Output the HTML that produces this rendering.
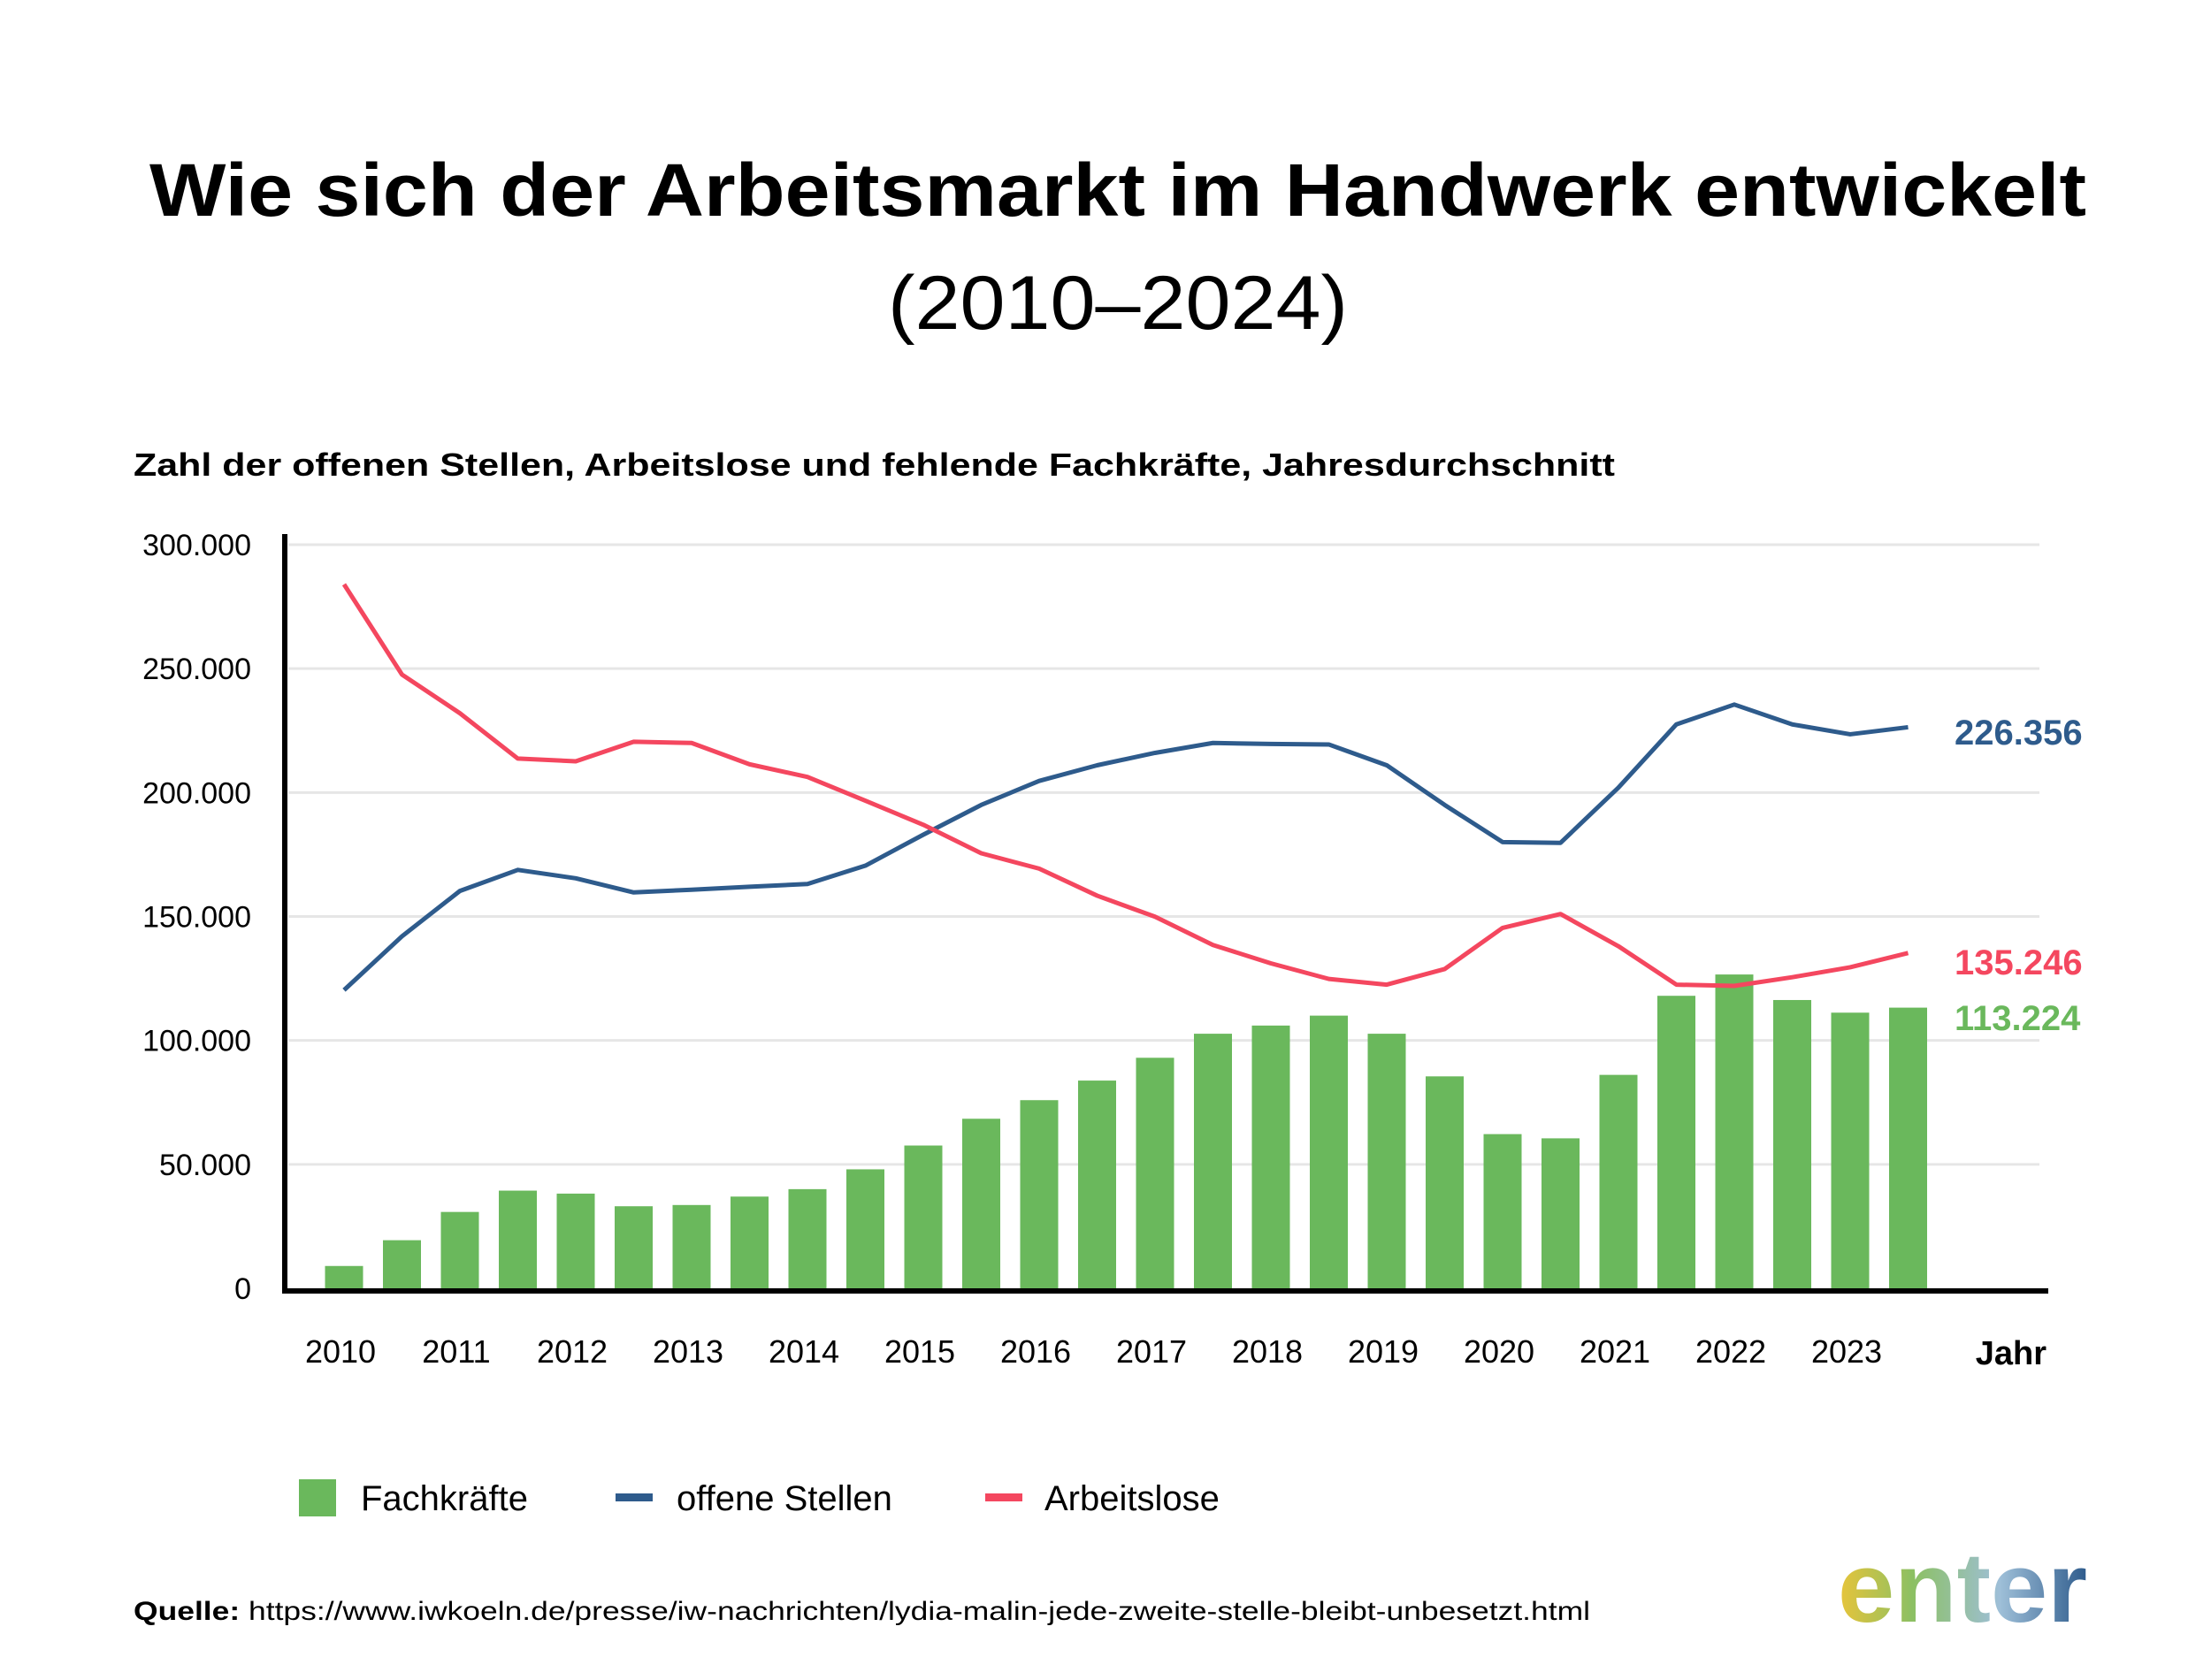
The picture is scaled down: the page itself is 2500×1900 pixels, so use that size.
<!DOCTYPE html>
<html><head><meta charset="utf-8"><style>
html,body{margin:0;padding:0;background:#fff}
svg{display:block}
text{font-family:"Liberation Sans",sans-serif}
</style></head><body>
<svg id="chart" width="2500" height="1900" viewBox="0 0 2500 1900">
<text x="1264" y="244" text-anchor="middle" font-size="84" font-weight="bold" fill="#000" textLength="2190" lengthAdjust="spacingAndGlyphs">Wie sich der Arbeitsmarkt im Handwerk entwickelt</text>
<text x="1264" y="372" text-anchor="middle" font-size="86" fill="#000" textLength="520" lengthAdjust="spacingAndGlyphs">(2010–2024)</text>
<text x="151" y="538" font-size="36" font-weight="bold" fill="#000" textLength="1675" lengthAdjust="spacingAndGlyphs">Zahl der offenen Stellen, Arbeitslose und fehlende Fachkräfte, Jahresdurchschnitt</text>
<g id="grid"></g><g id="bars"></g><g id="lines"></g><g id="axes"></g>
<text x="2210" y="842" font-size="40" font-weight="bold" fill="#2e5b8c">226.356</text>
<text x="2210" y="1102" font-size="40" font-weight="bold" fill="#f4475f">135.246</text>
<text x="2210" y="1165" font-size="40" font-weight="bold" fill="#6ab85c">113.224</text>
<text x="2314" y="1543" text-anchor="end" font-size="38" font-weight="bold" fill="#000">Jahr</text>
<g>
<rect x="338" y="1673" width="42" height="42" fill="#6ab85c"/>
<text x="408" y="1708" font-size="40" fill="#000">Fachkräfte</text>
<rect x="696" y="1689" width="42" height="9" fill="#2e5b8c"/>
<text x="765" y="1708" font-size="40" fill="#000">offene Stellen</text>
<rect x="1114" y="1689" width="42" height="9" fill="#f4475f"/>
<text x="1181" y="1708" font-size="40" fill="#000">Arbeitslose</text>
</g>
<text x="151" y="1832" font-size="30" fill="#000" textLength="1647" lengthAdjust="spacingAndGlyphs"><tspan font-weight="bold">Quelle:</tspan> https://www.iwkoeln.de/presse/iw-nachrichten/lydia-malin-jede-zweite-stelle-bleibt-unbesetzt.html</text>
<defs><linearGradient id="lg" x1="0" x2="1" y1="0" y2="0"><stop offset="0" stop-color="#e8c43a"/><stop offset="0.3" stop-color="#8cc063"/><stop offset="0.65" stop-color="#9ebfd8"/><stop offset="1" stop-color="#2e5b8c"/></linearGradient></defs>
<text x="2078" y="1834" font-size="112" font-weight="bold" fill="url(#lg)" textLength="282" lengthAdjust="spacingAndGlyphs">enter</text>
</svg>
<script>
const yTicks = [0, 50000, 100000, 150000, 200000, 250000, 300000];
const yTickLabels = ["0", "50.000", "100.000", "150.000", "200.000", "250.000", "300.000"];
const yearLabels = ["2010","2011","2012","2013","2014","2015","2016","2017","2018","2019","2020","2021","2022","2023"];
const periods = [2010,2010.5,2011,2011.5,2012,2012.5,2013,2013.5,2014,2014.5,2015,2015.5,2016,2016.5,2017,2017.5,2018,2018.5,2019,2019.5,2020,2020.5,2021,2021.5,2022,2022.5,2023,2023.5];
const fachkraefte = [9000,19400,30800,39400,38200,33100,33600,37000,40000,48000,57600,68400,75900,83800,93000,102700,106000,110000,102700,85500,62200,60500,86100,118000,126600,116300,111200,113224];
const offeneStellen = [120300,142000,160300,168800,165400,159700,160800,162000,163100,170500,183000,195000,204700,211000,216000,220000,219600,219400,211000,195000,180000,179700,202000,227500,235500,227500,223500,226356];
const arbeitslose = [284000,247600,232000,213700,212600,220500,220000,211400,206300,196700,187000,175500,169300,158400,149900,138500,131100,124800,122500,128800,145400,151000,138000,122500,122000,125500,129500,135246];

const NS = "http://www.w3.org/2000/svg";
const X0 = 389, STEP = 65.5, Y0 = 1457, YMAX = 300000, H = 841;
function xScale(p){ return X0 + (p - 2010) * 2 * STEP; }
function yScale(v){ return Y0 - v / YMAX * H; }
function mk(tag, attrs, parent){ const e = document.createElementNS(NS, tag); for (const k in attrs) e.setAttribute(k, attrs[k]); parent.appendChild(e); return e; }

const grid = document.getElementById('grid');
yTicks.forEach((t, i) => {
  if (t > 0) {
    const l = mk('line', {x1: 326, x2: 2306, y1: yScale(t), y2: yScale(t), stroke: '#e6e6e6', 'stroke-width': 3}, grid);
    
    
  }
  const tx = mk('text', {x: 284, y: yScale(t) + 12, 'text-anchor': 'end', 'font-size': 34, fill: '#000'}, grid);
  tx.textContent = yTickLabels[i];
  
  
});
yearLabels.forEach((lab, i) => {
  const tx = mk('text', {x: xScale(2010 + i) - 4, y: 1541, 'text-anchor': 'middle', 'font-size': 36, fill: '#000'}, grid);
  tx.textContent = lab;
  
  
});

const bars = document.getElementById('bars');
fachkraefte.forEach((v, i) => {
  const x = xScale(periods[i]);
  const r = mk('rect', {x: x - 21.5, y: yScale(v), width: 43, height: Y0 - yScale(v), fill: '#6ab85c'}, bars);
  
  
});

const lines = document.getElementById('lines');
function drawLine(vals, color, name){
  const pts = vals.map((v, i) => xScale(periods[i]) + ',' + yScale(v)).join(' ');
  const pl = mk('polyline', {points: pts, fill: 'none', stroke: color, 'stroke-width': 5, 'stroke-linejoin': 'round'}, lines);
  
  
}
drawLine(offeneStellen, '#2e5b8c', 'line-offene-stellen');
drawLine(arbeitslose, '#f4475f', 'line-arbeitslose');

const axes = document.getElementById('axes');
const ya = mk('line', {x1: 322, x2: 322, y1: 604, y2: 1462, stroke: '#000', 'stroke-width': 6}, axes);


const xa = mk('line', {x1: 319, x2: 2316, y1: 1460, y2: 1460, stroke: '#000', 'stroke-width': 6}, axes);


</script>
</body></html>
